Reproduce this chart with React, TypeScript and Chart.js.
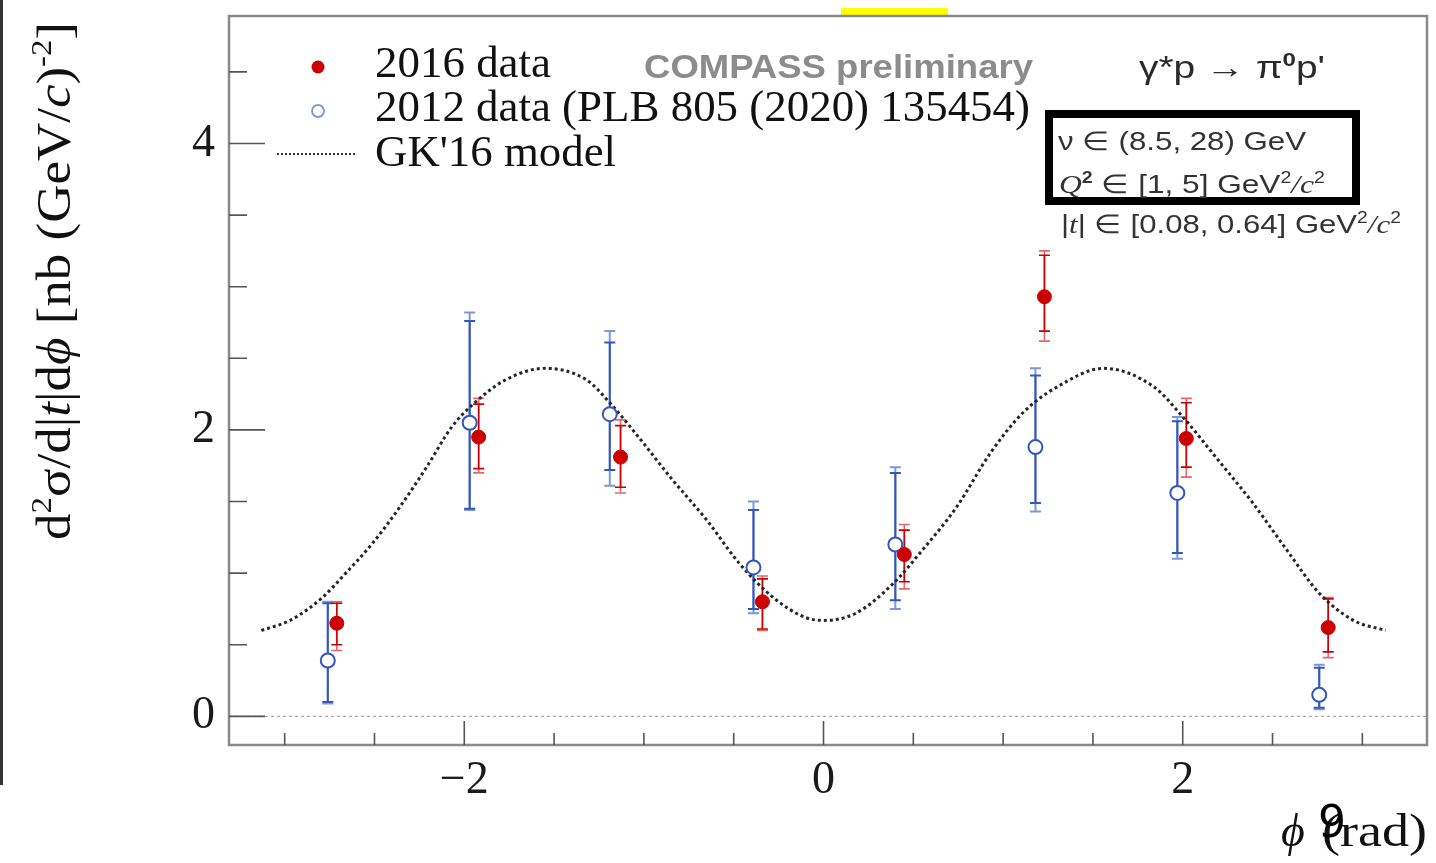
import { useEffect, useRef } from 'react';
import { Chart, registerables } from 'chart.js';

Chart.register(...registerables);

// ---------- data ----------
const phi2016 = [-2.71, -1.92, -1.13, -0.34, 0.45, 1.23, 2.02, 2.81];
const val2016 = [0.65, 1.95, 1.81, 0.8, 1.13, 2.93, 1.94, 0.62];
const statUp2016 = [0.14, 0.23, 0.22, 0.16, 0.17, 0.29, 0.25, 0.2];
const totUp2016 = [0.15, 0.27, 0.26, 0.18, 0.21, 0.32, 0.28, 0.21];
const statDn2016 = [0.15, 0.22, 0.21, 0.19, 0.19, 0.24, 0.2, 0.17];
const totDn2016 = [0.19, 0.25, 0.25, 0.2, 0.24, 0.31, 0.27, 0.21];

const phi2012 = [-2.76, -1.97, -1.19, -0.39, 0.4, 1.18, 1.97, 2.76];
const val2012 = [0.39, 2.05, 2.11, 1.04, 1.2, 1.88, 1.56, 0.15];
const statUp2012 = [0.4, 0.71, 0.5, 0.4, 0.5, 0.5, 0.5, 0.19];
const totUp2012 = [0.41, 0.77, 0.58, 0.46, 0.54, 0.55, 0.53, 0.21];
const statDn2012 = [0.29, 0.6, 0.39, 0.29, 0.39, 0.39, 0.42, 0.09];
const totDn2012 = [0.3, 0.61, 0.5, 0.32, 0.45, 0.45, 0.46, 0.1];

const modelPhi = [
  -3.13, -2.97, -2.79, -2.66, -2.51, -2.36, -2.21, -2.07, -1.95, -1.77, -1.55, -1.32,
  -1.19, -1.03, -0.84, -0.65, -0.47, -0.28, -0.1, 0.0, 0.18, 0.39, 0.55, 0.74, 0.93,
  1.11, 1.3, 1.56, 1.84, 1.98, 2.21, 2.39, 2.58, 2.76, 2.95, 3.13,
];
const modelVal = [
  0.6, 0.67, 0.83, 1.0, 1.21, 1.46, 1.74, 2.02, 2.18, 2.35, 2.43, 2.35, 2.19, 1.95, 1.65,
  1.37, 1.07, 0.83, 0.69, 0.67, 0.72, 0.93, 1.16, 1.46, 1.84, 2.12, 2.3, 2.43, 2.3, 2.12,
  1.77, 1.49, 1.16, 0.86, 0.67, 0.6,
];

const xMajorTicks = [-2, 0, 2];
const xMinorTicks = [-3, -2.5, -1.5, -1, -0.5, 0.5, 1, 1.5, 2.5, 3];
const yMajorTicks = [0, 2, 4];
const yMinorTicks = [0.5, 1, 1.5, 2.5, 3, 3.5, 4.5];

const legendLabels = ['2016 data', '2012 data (PLB 805 (2020) 135454)', "GK'16 model"];

// ---------- styling ----------
const SERIF = '"Liberation Serif", "Times New Roman", serif';
const SANS = '"Liberation Sans", Arial, sans-serif';
const RED = '#cc0000';
const RED_LIGHT = '#e06a6a';
const BLUE = '#3358bd';
const BLUE_LIGHT = '#7e98d6';

type Seg = { t: string; it?: boolean; sup?: boolean; bold?: boolean; fam?: string };

function drawRich(
  ctx: CanvasRenderingContext2D,
  segs: Seg[],
  x: number,
  y: number,
  size: number,
  family: string,
  color: string,
  fitWidth?: number,
  supScale = 0.62,
) {
  const parts = segs.map((s) => {
    const fs = s.sup ? size * supScale : size;
    const font = `${s.it ? 'italic ' : ''}${s.bold ? 'bold ' : ''}${fs}px ${s.fam || family}`;
    ctx.font = font;
    return { ...s, font, w: ctx.measureText(s.t).width };
  });
  const total = parts.reduce((a, p) => a + p.w, 0);
  const sx = fitWidth ? fitWidth / total : 1;
  ctx.save();
  ctx.translate(x, y);
  ctx.scale(sx, 1);
  ctx.fillStyle = color;
  ctx.textBaseline = 'alphabetic';
  ctx.textAlign = 'left';
  let cx = 0;
  for (const p of parts) {
    ctx.font = p.font;
    ctx.fillText(p.t, cx, p.sup ? -size * 0.4 : 0);
    cx += p.w;
  }
  ctx.restore();
}

function errorBars(
  chart: any,
  phi: number[],
  val: number[],
  sUp: number[],
  tUp: number[],
  sDn: number[],
  tDn: number[],
  dark: string,
  light: string,
  width: number,
) {
  const ctx: CanvasRenderingContext2D = chart.ctx;
  const xs = chart.scales.x;
  const ys = chart.scales.y;
  const cap = 5.5;
  ctx.save();
  for (let i = 0; i < phi.length; i++) {
    const px = xs.getPixelForValue(phi[i]);
    const yTU = ys.getPixelForValue(val[i] + tUp[i]);
    const yTD = ys.getPixelForValue(val[i] - tDn[i]);
    const ySU = ys.getPixelForValue(val[i] + sUp[i]);
    const ySD = ys.getPixelForValue(val[i] - sDn[i]);
    ctx.strokeStyle = light;
    ctx.lineWidth = width;
    ctx.beginPath();
    ctx.moveTo(px, yTU);
    ctx.lineTo(px, yTD);
    ctx.moveTo(px - cap, yTU);
    ctx.lineTo(px + cap, yTU);
    ctx.moveTo(px - cap, yTD);
    ctx.lineTo(px + cap, yTD);
    ctx.stroke();
    ctx.strokeStyle = dark;
    ctx.beginPath();
    ctx.moveTo(px, ySU);
    ctx.lineTo(px, ySD);
    ctx.moveTo(px - cap, ySU);
    ctx.lineTo(px + cap, ySU);
    ctx.moveTo(px - cap, ySD);
    ctx.lineTo(px + cap, ySD);
    ctx.stroke();
  }
  ctx.restore();
}

export default function App() {
  const ref = useRef<HTMLCanvasElement>(null);

  useEffect(() => {
    const canvas = ref.current;
    if (!canvas) return;

    const overlay = {
      id: 'overlay',
      beforeDatasetsDraw(chart: any) {
        const ctx: CanvasRenderingContext2D = chart.ctx;
        const ca = chart.chartArea;
        const ys = chart.scales.y;
        const y0 = ys.getPixelForValue(0);
        ctx.save();
        ctx.strokeStyle = '#9a9a9a';
        ctx.lineWidth = 1;
        ctx.setLineDash([3, 3]);
        ctx.beginPath();
        ctx.moveTo(ca.left, y0);
        ctx.lineTo(ca.right, y0);
        ctx.stroke();
        ctx.restore();
        errorBars(chart, phi2012, val2012, statUp2012, totUp2012, statDn2012, totDn2012, BLUE, BLUE_LIGHT, 2);
        errorBars(chart, phi2016, val2016, statUp2016, totUp2016, statDn2016, totDn2016, RED, RED_LIGHT, 1.6);
      },
      afterDraw(chart: any) {
        const ctx: CanvasRenderingContext2D = chart.ctx;
        const ca = chart.chartArea;
        const xs = chart.scales.x;
        const ys = chart.scales.y;
        ctx.save();

        // left edge strip and yellow mark
        ctx.fillStyle = '#333';
        ctx.fillRect(0, 0, 3, 785);
        ctx.fillStyle = '#ffff00';
        ctx.fillRect(841, 8, 107, 8);

        // frame
        ctx.strokeStyle = '#8a8a8a';
        ctx.lineWidth = 2.5;
        ctx.strokeRect(ca.left, ca.top, ca.right - ca.left, ca.bottom - ca.top);

        // inward ticks
        ctx.strokeStyle = '#555';
        ctx.lineWidth = 1.6;
        ctx.beginPath();
        for (const v of yMajorTicks) {
          const p = ys.getPixelForValue(v);
          ctx.moveTo(ca.left, p);
          ctx.lineTo(ca.left + 36, p);
        }
        for (const v of yMinorTicks) {
          const p = ys.getPixelForValue(v);
          ctx.moveTo(ca.left, p);
          ctx.lineTo(ca.left + 18, p);
        }
        for (const v of xMajorTicks) {
          const p = xs.getPixelForValue(v);
          ctx.moveTo(p, ca.bottom);
          ctx.lineTo(p, ca.bottom - 24);
        }
        for (const v of xMinorTicks) {
          const p = xs.getPixelForValue(v);
          ctx.moveTo(p, ca.bottom);
          ctx.lineTo(p, ca.bottom - 12);
        }
        ctx.stroke();

        // legend
        ctx.fillStyle = RED;
        ctx.beginPath();
        ctx.arc(318, 67, 6.5, 0, Math.PI * 2);
        ctx.fill();
        ctx.fillStyle = '#fff';
        ctx.strokeStyle = BLUE_LIGHT;
        ctx.lineWidth = 1.8;
        ctx.beginPath();
        ctx.arc(318, 111, 6, 0, Math.PI * 2);
        ctx.fill();
        ctx.stroke();
        ctx.strokeStyle = '#333';
        ctx.lineWidth = 2;
        ctx.setLineDash([2, 2]);
        ctx.beginPath();
        ctx.moveTo(277, 154);
        ctx.lineTo(356, 154);
        ctx.stroke();
        ctx.setLineDash([]);
        drawRich(ctx, [{ t: legendLabels[0] }], 375, 77, 45, SERIF, '#111', 176);
        drawRich(ctx, [{ t: legendLabels[1] }], 375, 121, 45, SERIF, '#111', 655);
        drawRich(ctx, [{ t: legendLabels[2] }], 375, 166, 45, SERIF, '#111', 241);

        // COMPASS preliminary
        drawRich(ctx, [{ t: 'COMPASS preliminary', bold: true }], 644, 78, 33, SANS, '#8c8c8c', 389);

        // reaction
        drawRich(
          ctx,
          [{ t: 'γ*p \u2192 π' }, { t: '0', sup: true, bold: true }, { t: "p'" }],
          1139,
          78,
          31,
          SANS,
          '#2a2a2a',
          186,
        );

        // box
        ctx.strokeStyle = '#000';
        ctx.lineWidth = 8;
        ctx.strokeRect(1049, 114, 307, 87);
        drawRich(ctx, [{ t: 'ν \u2208 (8.5, 28) GeV' }], 1058, 150, 26, SANS, '#333', 248);
        drawRich(
          ctx,
          [
            { t: 'Q', it: true, fam: SERIF },
            { t: '2', sup: true, bold: true },
            { t: ' \u2208 [1, 5] GeV' },
            { t: '2', sup: true },
            { t: '/', it: true, fam: SERIF },
            { t: 'c', it: true, fam: SERIF },
            { t: '2', sup: true },
          ],
          1059,
          193,
          26,
          SANS,
          '#333',
          266,
        );
        drawRich(
          ctx,
          [
            { t: '|' },
            { t: 't', it: true, fam: SERIF },
            { t: '| \u2208 [0.08, 0.64] GeV' },
            { t: '2', sup: true },
            { t: '/', it: true, fam: SERIF },
            { t: 'c', it: true, fam: SERIF },
            { t: '2', sup: true },
          ],
          1061,
          233,
          26,
          SANS,
          '#333',
          340,
        );

        // y-axis title (rotated)
        ctx.save();
        ctx.translate(70, 540);
        ctx.rotate(-Math.PI / 2);
        drawRich(
          ctx,
          [
            { t: 'd' },
            { t: '2', sup: true },
            { t: 'σ/d|' },
            { t: 't', it: true },
            { t: '|d' },
            { t: 'ϕ', it: true },
            { t: ' [nb (GeV/' },
            { t: 'c', it: true },
            { t: ')' },
            { t: '-2', sup: true },
            { t: ']' },
          ],
          0,
          0,
          48,
          SERIF,
          '#111',
          518,
        );
        ctx.restore();

        // x-axis title
        drawRich(ctx, [{ t: 'ϕ', it: true }], 1281, 846, 46, SERIF, '#111');
        drawRich(ctx, [{ t: '(rad)' }], 1322, 846, 46, SERIF, '#111', 105);
        ctx.fillStyle = '#000';
        ctx.font = `44px "DejaVu Sans", sans-serif`;
        ctx.textBaseline = 'alphabetic';
        ctx.fillText('9', 1318, 837);

        ctx.restore();
      },
    };

    const tickFont = { family: SERIF, size: 46 };
    const chart = new Chart(canvas, {
      type: 'scatter',
      data: {
        datasets: [
          {
            label: legendLabels[0],
            data: phi2016.map((x, i) => ({ x, y: val2016[i] })),
            pointRadius: 7,
            pointBackgroundColor: RED,
            pointBorderColor: RED,
            pointBorderWidth: 1,
            showLine: false,
          },
          {
            label: legendLabels[1],
            data: phi2012.map((x, i) => ({ x, y: val2012[i] })),
            pointRadius: 7,
            pointBackgroundColor: '#ffffff',
            pointBorderColor: BLUE,
            pointBorderWidth: 2,
            showLine: false,
          },
          {
            label: legendLabels[2],
            data: modelPhi.map((x, i) => ({ x, y: modelVal[i] })),
            showLine: true,
            pointRadius: 0,
            borderColor: '#262626',
            borderWidth: 3,
            borderDash: [3, 3],
            cubicInterpolationMode: 'monotone',
            fill: false,
          } as any,
        ],
      },
      options: {
        responsive: false,
        devicePixelRatio: 1,
        animation: false,
        events: [],
        layout: { padding: { top: 16, right: 8, left: 0, bottom: 0 } },
        plugins: { legend: { display: false }, tooltip: { enabled: false } },
        scales: {
          x: {
            type: 'linear',
            position: 'bottom',
            min: -3.31,
            max: 3.36,
            grid: { display: false, drawTicks: false },
            border: { display: false },
            ticks: {
              font: tickFont,
              color: '#1a1a1a',
              padding: 8,
              maxRotation: 0,
              autoSkip: false,
              callback: (v: any) => (Number(v) < 0 ? '\u2212' + Math.abs(Number(v)) : String(v)),
            },
            afterBuildTicks: (s: any) => {
              s.ticks = xMajorTicks.map((value) => ({ value }));
            },
            afterFit: (s: any) => {
              s.height = 118;
              s.paddingLeft = 0;
              s.paddingRight = 0;
            },
          },
          y: {
            type: 'linear',
            min: -0.2,
            max: 4.89,
            grid: { display: false, drawTicks: false },
            border: { display: false },
            ticks: {
              font: tickFont,
              color: '#1a1a1a',
              padding: 14,
              autoSkip: false,
              callback: (v: any) => String(v),
            },
            afterBuildTicks: (s: any) => {
              s.ticks = yMajorTicks.map((value) => ({ value }));
            },
            afterFit: (s: any) => {
              s.width = 229;
              s.paddingTop = 0;
              s.paddingBottom = 0;
            },
          },
        },
      },
      plugins: [overlay],
    });

    return () => chart.destroy();
  }, []);

  return (
    <div style={{ position: 'fixed', left: 0, top: 0, width: 1436, height: 863, background: '#fff' }}>
      <canvas ref={ref} width={1436} height={863} style={{ display: 'block', width: 1436, height: 863 }} />
    </div>
  );
}
